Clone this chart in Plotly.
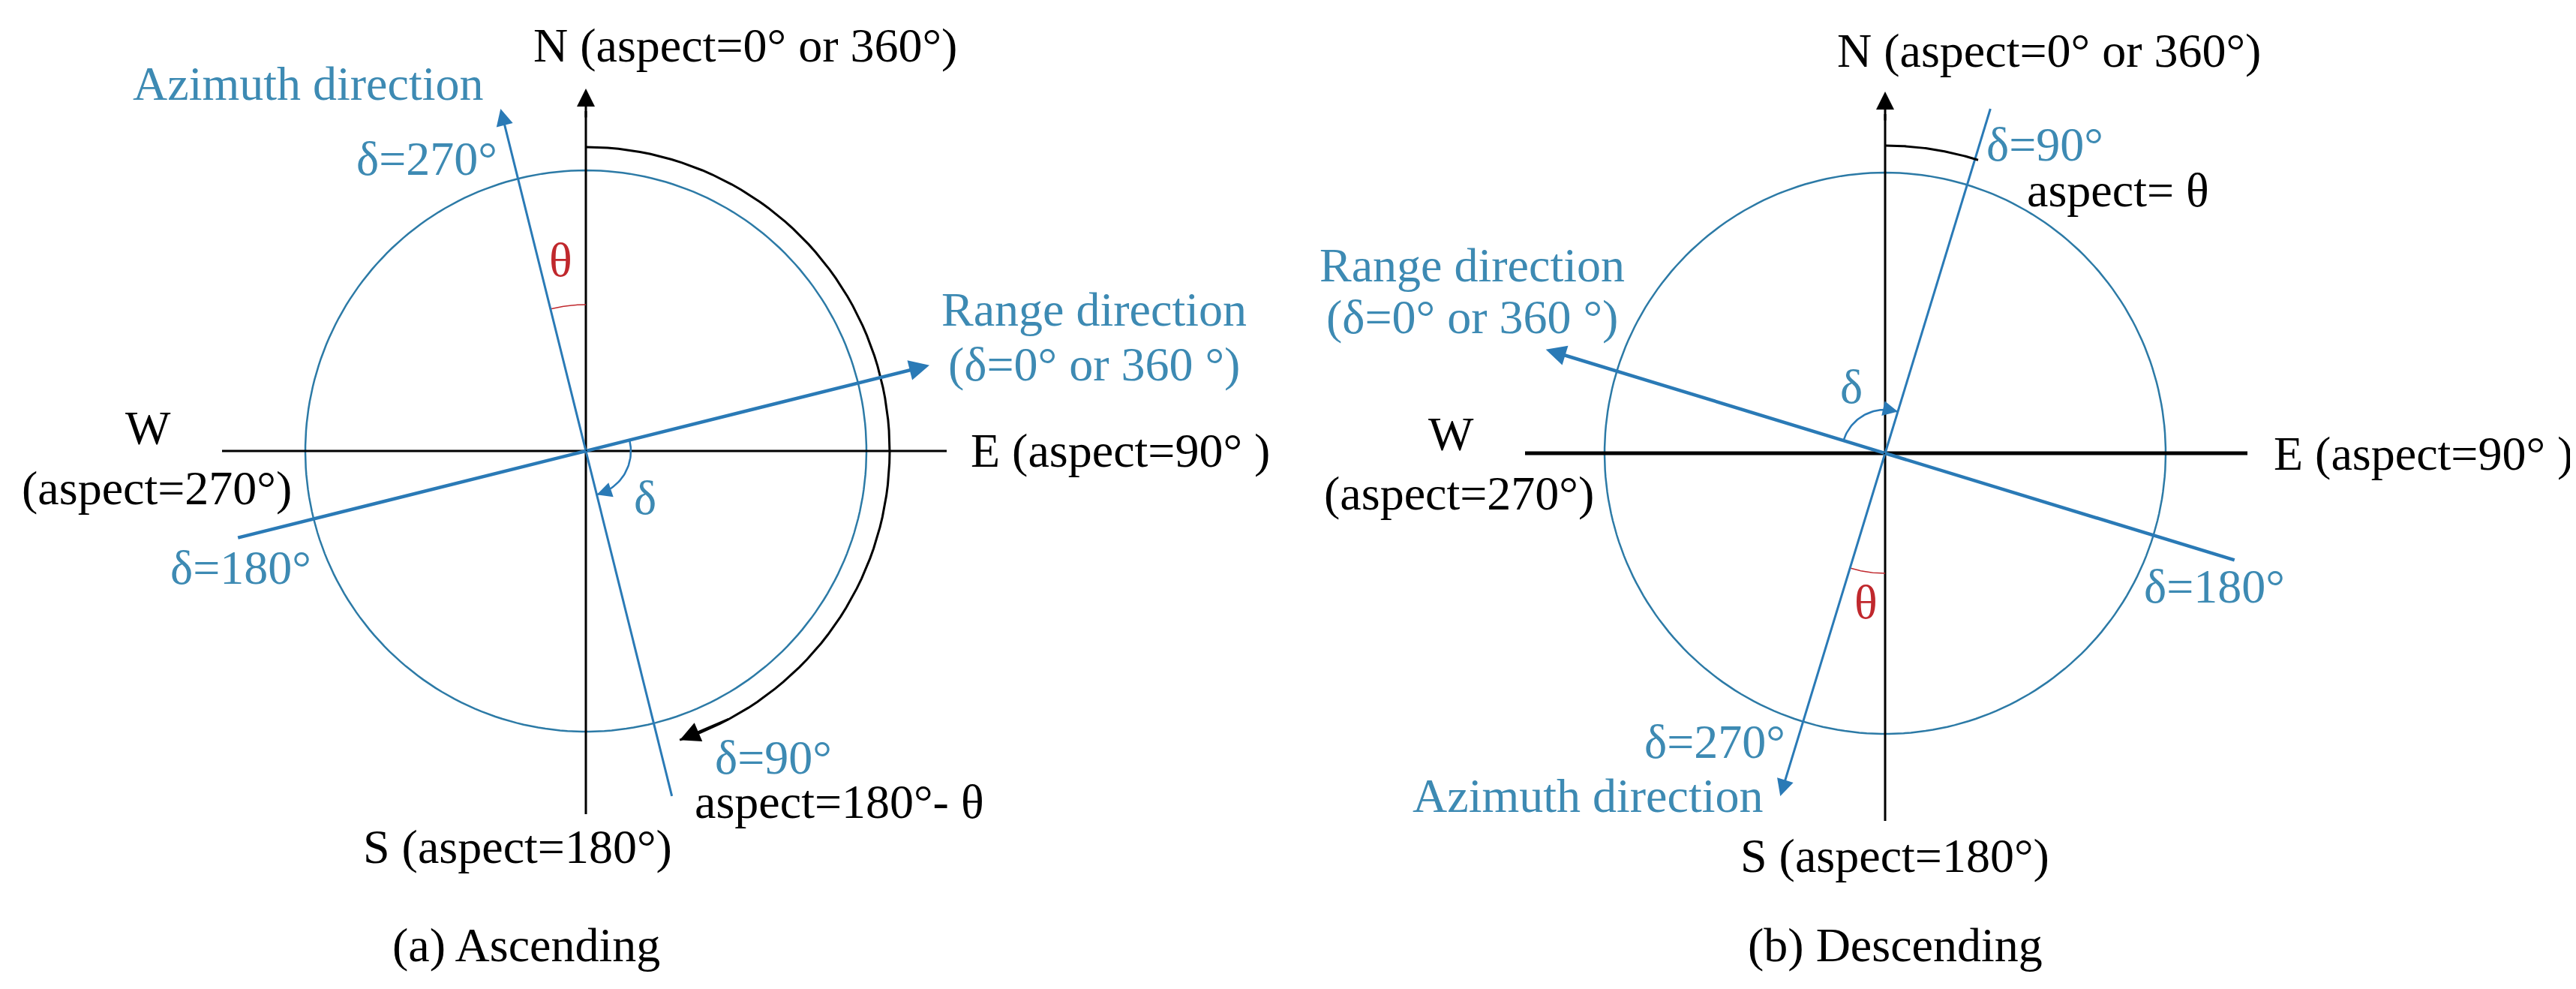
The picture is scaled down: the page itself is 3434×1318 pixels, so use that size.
import numpy as np
import plotly.graph_objects as go

# --- diagram data (image pixel coordinates, bearings in degrees clockwise from north) ---
panel_names = ["(a) Ascending", "(b) Descending"]
centers_x = [773, 2505]
centers_y = [593, 596]
circle_r = [374, 374]
theta_deg = [14, 17]               # heading angle of azimuth from N/S axis
azimuth_bearing = [346, 197]       # azimuth arrow direction
azimuth_len = [470, 478]
azimuth_back_len = [474, 480]
range_bearing = [76, 287]          # range arrow direction
range_len = [472, 473]
range_back_len = [478, 487]
aspect_arc_r = [405, 410]
aspect_arc_end = [162, 17.6]
theta_arc_r = [195, 160]
theta_arc_span = [(346, 360), (180, 197)]
delta_arc_r = [60, 58]
delta_arc_span = [(76, 166), (287, 377)]
axis_top = [110, 114]
axis_bottom = [1077, 1086]
axis_left = [288, 2025]
axis_right = [1254, 2988]
axis_h_width = [3, 5]

BLUE = "#2a7ab6"
TEXT_BLUE = "#3d8ab3"
CIRCLE = "#2c7aa6"
RED = "#c0282d"
FONT = "Liberation Serif"

labels = [
    # text, x, y, color
    ("N (aspect=0° or 360°)", 985, 52, "black"),
    ("Azimuth direction", 402, 103, TEXT_BLUE),
    ("δ=270°", 561, 203, TEXT_BLUE),
    ("θ", 739, 338, RED),
    ("Range direction", 1450, 404, TEXT_BLUE),
    ("(δ=0° or 360 °)", 1450, 477, TEXT_BLUE),
    ("W", 189, 562, "black"),
    ("(aspect=270°)", 201, 642, "black"),
    ("E (aspect=90° )", 1485, 592, "black"),
    ("δ", 852, 655, TEXT_BLUE),
    ("δ=180°", 313, 748, TEXT_BLUE),
    ("δ=90°", 1023, 1001, TEXT_BLUE),
    ("aspect=180°- θ", 1111, 1060, "black"),
    ("S (aspect=180°)", 682, 1120, "black"),
    ("(a) Ascending", 693, 1251, "black"),
    ("N (aspect=0° or 360°)", 2723, 59, "black"),
    ("δ=90°", 2718, 184, TEXT_BLUE),
    ("aspect= θ", 2815, 245, "black"),
    ("Range direction", 1954, 345, TEXT_BLUE),
    ("(δ=0° or 360 °)", 1954, 414, TEXT_BLUE),
    ("δ", 2460, 507, TEXT_BLUE),
    ("W", 1926, 570, "black"),
    ("(aspect=270°)", 1937, 649, "black"),
    ("E (aspect=90° )", 3222, 596, "black"),
    ("δ=180°", 2944, 773, TEXT_BLUE),
    ("θ", 2479, 794, RED),
    ("δ=270°", 2278, 980, TEXT_BLUE),
    ("Azimuth direction", 2108, 1052, TEXT_BLUE),
    ("S (aspect=180°)", 2518, 1132, "black"),
    ("(b) Descending", 2518, 1251, "black"),
]


def polar(cx, cy, r, bearing):
    b = np.radians(bearing)
    return cx + r * np.sin(b), cy - r * np.cos(b)


def arc(cx, cy, r, a0, a1, n=80):
    t = np.linspace(a0, a1, n)
    return polar(cx, cy, r, t)


fig = go.Figure()
ann = []


def line(xs, ys, color, width):
    fig.add_trace(go.Scatter(x=list(xs), y=list(ys), mode="lines",
                             line=dict(color=color, width=width),
                             hoverinfo="skip", showlegend=False))


def arrow(x, y, ax, ay, color, width, size=1.0):
    ann.append(dict(x=x, y=y, ax=ax, ay=ay, xref="x", yref="y", axref="x", ayref="y",
                    showarrow=True, arrowhead=2, arrowsize=size, arrowwidth=width,
                    arrowcolor=color, text=""))


for i in range(2):
    cx, cy = centers_x[i], centers_y[i]
    # circle
    x, y = arc(cx, cy, circle_r[i], 0, 360, 240)
    line(x, y, CIRCLE, 2.5)
    # axes
    line([axis_left[i], axis_right[i]], [cy, cy], "black", axis_h_width[i])
    line([cx, cx], [axis_bottom[i], axis_top[i] + 30], "black", 3)
    arrow(cx, axis_top[i], cx, axis_top[i] + 40, "black", 3, 1.6)
    # azimuth line
    bx, by = polar(cx, cy, azimuth_back_len[i], azimuth_bearing[i] + 180)
    tx, ty = polar(cx, cy, azimuth_len[i], azimuth_bearing[i])
    line([bx, cx], [by, cy], BLUE, 3)
    arrow(tx, ty, cx, cy, BLUE, 3, 1.5)
    # range line
    bx, by = polar(cx, cy, range_back_len[i], range_bearing[i] + 180)
    tx, ty = polar(cx, cy, range_len[i], range_bearing[i])
    line([bx, cx], [by, cy], BLUE, 4.5)
    arrow(tx, ty, cx, cy, BLUE, 4.5, 1.2)
    # aspect arc (black)
    x, y = arc(cx, cy, aspect_arc_r[i], 0, aspect_arc_end[i])
    line(x, y, "black", 3)
    arrow(x[-1], y[-1], x[-6], y[-6], "black", 3, 1.8)
    # theta arc (red)
    x, y = arc(cx, cy, theta_arc_r[i], *theta_arc_span[i], n=30)
    line(x, y, RED, 1.5)
    # delta arc (blue)
    x, y = arc(cx, cy, delta_arc_r[i], *delta_arc_span[i], n=40)
    line(x, y, BLUE, 2.5)
    arrow(x[-1], y[-1], x[-5], y[-5], BLUE, 2.5, 1.6)

for text, x, y, color in labels:
    ann.append(dict(x=x, y=y, xref="x", yref="y", text=text, showarrow=False,
                    font=dict(family=FONT, size=64, color=color),
                    xanchor="center", yanchor="middle"))

fig.update_layout(
    width=3434, height=1318,
    margin=dict(l=0, r=0, t=0, b=0),
    paper_bgcolor="white", plot_bgcolor="white",
    xaxis=dict(range=[0, 3434], visible=False, fixedrange=True),
    yaxis=dict(range=[1318, 0], visible=False, fixedrange=True),
    annotations=ann,
)

fig.write_html("out.html")
